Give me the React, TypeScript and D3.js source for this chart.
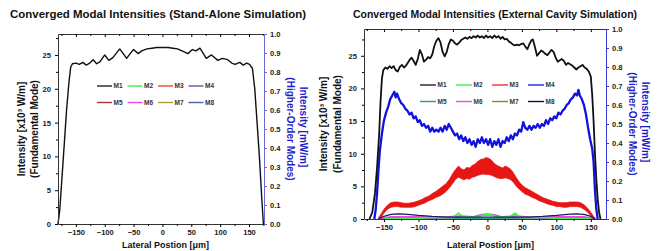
import React, { useEffect, useRef } from 'react';
import * as d3 from 'd3';

const WIDTH = 659;
const HEIGHT = 251;

const modeNames = ['M1', 'M2', 'M3', 'M4', 'M5', 'M6', 'M7', 'M8'];
const saColors = ['#222222', '#44ee44', '#ee4444', '#5a5ab4', '#a03838', '#ee44ee', '#a0a040', '#5a5aa0'];
const ecColors = ['#222222', '#44ee44', '#ee3333', '#2222dd', '#2a9a9a', '#ee44ee', '#8a8a20', '#10103a'];

const xTicks = [-150, -100, -50, 0, 50, 100, 150];
const xMinor = [-175, -125, -75, -25, 25, 75, 125, 175];
const leftTicks = [0, 5, 10, 15, 20, 25];
const leftMinor = [2.5, 7.5, 12.5, 17.5, 22.5, 27.5];
const rightTicks = [0, 0.1, 0.2, 0.3, 0.4, 0.5, 0.6, 0.7, 0.8, 0.9, 1.0];

// stand-alone simulation, fundamental mode [x, 10^3 W/m]
const saM1 = [
  [-181, 0], [-178, 2], [-174, 7], [-170, 12], [-166, 17], [-162, 21], [-159, 23.2], [-156, 23.7],
  [-150, 23.8], [-144, 23.6], [-138, 23.9], [-132, 23.5], [-126, 23.8], [-120, 24.3], [-114, 23.7],
  [-108, 24.0], [-100, 25.0], [-93, 24.2], [-86, 24.6], [-74, 25.9], [-62, 24.5], [-56, 25.2],
  [-50, 25.8], [-42, 25.2], [-36, 25.6], [-27, 25.9], [-18, 26.0], [-10, 26.1], [0, 26.1], [10, 26.1],
  [18, 26.0], [26, 25.9], [34, 25.6], [44, 25.2], [52, 25.8], [58, 25.6], [65, 26.0], [76, 24.5],
  [85, 25.0], [96, 24.2], [104, 24.5], [113, 24.3], [120, 23.8], [126, 23.6], [134, 23.9], [140, 23.5],
  [146, 23.8], [151, 23.6], [156, 23.0], [160, 20], [164, 15], [168, 10], [172, 4], [175, 0],
];

// external cavity simulation, fundamental mode [x, 10^3 W/m]
const ecM1 = [
  [-171, 0], [-167, 1], [-163, 4], [-160, 8], [-157, 13], [-155, 18], [-153, 21.5], [-151, 22.8],
  [-148, 23.2], [-145, 23.0], [-142, 23.4], [-139, 23.1], [-136, 23.4], [-133, 22.8], [-130, 22.6],
  [-127, 23.3], [-124, 23.6], [-121, 23.2], [-118, 23.5], [-115, 24.0], [-112, 24.5], [-110, 24.7],
  [-107, 24.2], [-104, 23.6], [-101, 24.5], [-98, 25.9], [-95, 25.2], [-92, 24.1], [-89, 24.4],
  [-86, 24.8], [-83, 24.6], [-80, 25.2], [-77, 26.5], [-74, 27.3], [-71, 27.7], [-68, 27.0],
  [-65, 25.6], [-62, 24.9], [-59, 25.6], [-56, 26.8], [-53, 27.5], [-50, 27.3], [-47, 26.9],
  [-44, 26.7], [-41, 27.0], [-38, 27.4], [-35, 27.6], [-32, 27.8], [-29, 27.6], [-26, 27.9],
  [-23, 27.7], [-20, 28.0], [-17, 27.8], [-14, 28.1], [-11, 27.8], [-8, 28.0], [-5, 27.7], [-2, 28.1],
  [1, 27.8], [4, 28.0], [7, 27.7], [10, 28.1], [13, 27.8], [16, 28.0], [19, 27.6], [22, 27.9],
  [25, 27.5], [28, 27.6], [31, 27.2], [34, 27.0], [37, 26.7], [40, 26.6], [43, 26.7], [46, 26.6],
  [49, 26.8], [52, 26.9], [55, 26.4], [58, 26.0], [61, 26.8], [64, 27.4], [66, 27.5], [69, 26.3],
  [72, 25.0], [75, 25.4], [78, 25.8], [81, 25.6], [84, 25.3], [87, 25.1], [90, 25.5], [93, 25.9],
  [96, 25.6], [99, 24.7], [102, 24.1], [105, 24.3], [108, 24.5], [111, 24.2], [114, 23.6], [117, 23.9],
  [120, 23.7], [123, 23.5], [126, 23.2], [129, 22.9], [132, 23.2], [135, 23.4], [138, 23.6], [141, 23.2],
  [144, 23.0], [147, 22.6], [150, 21.8], [152, 19], [154, 15], [156, 10], [158, 6], [160, 3],
  [162, 1], [164, 0],
];

// external cavity, M4 on the right axis [x, mW/m]
const ecM4 = [
  [-164, 0], [-162, 0.05], [-160, 0.14], [-158, 0.26], [-156, 0.36], [-153, 0.45], [-150, 0.52],
  [-147, 0.56], [-144, 0.59], [-141, 0.63], [-138, 0.65], [-135, 0.67], [-133, 0.64], [-131, 0.66],
  [-128, 0.63], [-125, 0.61], [-122, 0.60], [-119, 0.58], [-116, 0.57], [-113, 0.55], [-110, 0.56],
  [-107, 0.53], [-104, 0.54], [-101, 0.51], [-98, 0.52], [-95, 0.49], [-92, 0.50], [-89, 0.48],
  [-86, 0.49], [-83, 0.46], [-80, 0.48], [-77, 0.46], [-74, 0.47], [-71, 0.46], [-68, 0.48],
  [-65, 0.46], [-62, 0.49], [-59, 0.47], [-56, 0.50], [-53, 0.48], [-50, 0.46], [-47, 0.44],
  [-44, 0.45], [-41, 0.42], [-38, 0.44], [-35, 0.41], [-32, 0.43], [-29, 0.40], [-26, 0.42],
  [-23, 0.39], [-20, 0.41], [-17, 0.38], [-14, 0.42], [-11, 0.40], [-8, 0.43], [-5, 0.40], [-2, 0.42],
  [1, 0.39], [4, 0.42], [7, 0.38], [10, 0.41], [13, 0.39], [16, 0.42], [19, 0.38], [22, 0.41],
  [25, 0.40], [28, 0.43], [31, 0.41], [34, 0.44], [37, 0.42], [40, 0.45], [43, 0.44], [46, 0.47],
  [49, 0.46], [52, 0.51], [55, 0.48], [58, 0.47], [61, 0.49], [64, 0.47], [67, 0.49], [70, 0.48],
  [73, 0.50], [76, 0.48], [79, 0.50], [82, 0.49], [85, 0.52], [88, 0.50], [91, 0.53], [94, 0.52],
  [97, 0.54], [100, 0.53], [103, 0.56], [106, 0.55], [109, 0.57], [112, 0.58], [115, 0.60], [118, 0.61],
  [121, 0.63], [124, 0.64], [127, 0.66], [130, 0.65], [132, 0.68], [134, 0.65], [137, 0.63], [140, 0.60],
  [143, 0.55], [146, 0.48], [149, 0.42], [152, 0.37], [154, 0.30], [156, 0.15], [158, 0.05], [160, 0],
];

// external cavity, M3 band [x, low, high]
const ecM3 = [
  [-158, 0, 0.2], [-154, 0.3, 0.8], [-150, 0.9, 1.5], [-145, 1.5, 2.1], [-140, 1.8, 2.5], [-135, 1.9, 2.6],
  [-130, 1.9, 2.6], [-125, 1.8, 2.5], [-120, 1.8, 2.4], [-115, 1.8, 2.4], [-110, 1.8, 2.5], [-105, 1.9, 2.6],
  [-100, 2.1, 2.8], [-95, 2.3, 3.0], [-90, 2.5, 3.3], [-85, 2.8, 3.5], [-80, 3.0, 3.9], [-75, 3.3, 4.2],
  [-70, 3.5, 4.6], [-65, 3.8, 5.0], [-60, 4.2, 5.4], [-55, 4.8, 6.1], [-50, 5.5, 7.0], [-46, 6.1, 7.6],
  [-42, 6.4, 8.1], [-38, 6.2, 7.7], [-34, 6.0, 7.5], [-30, 6.2, 7.9], [-26, 6.1, 7.8], [-22, 6.4, 8.2],
  [-18, 6.5, 8.4], [-14, 6.7, 8.8], [-10, 6.8, 9.1], [-6, 6.9, 9.2], [-2, 6.8, 9.4], [2, 6.8, 9.3],
  [6, 6.7, 9.0], [10, 6.5, 8.5], [14, 6.3, 8.2], [18, 6.2, 8.0], [22, 6.2, 7.8], [26, 6.3, 8.1],
  [30, 6.2, 7.9], [34, 6.0, 7.6], [38, 5.6, 7.0], [42, 5.0, 6.3], [46, 4.6, 5.7], [50, 4.2, 5.2],
  [55, 3.8, 4.8], [60, 3.6, 4.5], [65, 3.3, 4.2], [70, 3.1, 3.9], [75, 2.8, 3.6], [80, 2.6, 3.3],
  [85, 2.4, 3.1], [90, 2.2, 2.9], [95, 2.1, 2.7], [100, 1.9, 2.6], [105, 1.9, 2.5], [110, 1.8, 2.5],
  [115, 1.8, 2.5], [120, 1.9, 2.6], [125, 1.9, 2.6], [130, 1.9, 2.6], [135, 1.8, 2.5], [140, 1.5, 2.2],
  [145, 1.1, 1.7], [150, 0.5, 1.0], [154, 0.1, 0.4], [157, 0, 0.1],
];

const ecM2 = [
  [-150, 0], [-100, 0.1], [-80, 0.3], [-70, 0.2], [-50, 0.2], [-42, 0.9], [-35, 0.3], [-15, 0.3],
  [-5, 0.7], [5, 0.7], [15, 0.3], [32, 0.3], [40, 0.9], [48, 0.2], [70, 0.2], [80, 0.3], [100, 0.1], [150, 0],
];
const ecM5 = [[-150, 0], [-100, 0.15], [0, 0.1], [100, 0.15], [150, 0]];
const ecM6 = [
  [-155, 0], [-140, 0.3], [-100, 0.3], [-60, 0.25], [-40, 0.4], [-20, 0.3], [-10, 0.6], [0, 0.7],
  [10, 0.6], [20, 0.3], [40, 0.4], [60, 0.25], [100, 0.3], [140, 0.3], [155, 0],
];
const ecM7 = [[-150, 0], [0, 0.05], [150, 0]];
const ecM8 = [
  [-158, 0], [-150, 0.4], [-140, 0.7], [-130, 0.8], [-120, 0.75], [-100, 0.55], [-80, 0.4], [-60, 0.3],
  [-40, 0.3], [-20, 0.3], [0, 0.3], [20, 0.3], [40, 0.3], [60, 0.3], [80, 0.4], [100, 0.55], [120, 0.75],
  [130, 0.8], [140, 0.7], [150, 0.4], [156, 0],
];

const FONT = '"Liberation Sans", Arial, sans-serif';
const BLUE = '#1c1cc8';

function drawPanel(svg, p) {
  const x = d3.scaleLinear().domain(p.xDomain).range([p.x0, p.x1]);
  const yL = d3.scaleLinear().domain([0, p.yMax]).range([p.y1, p.y0]);
  const yR = d3.scaleLinear().domain([0, 1]).range([p.y1, p.y0]);
  const g = svg.append('g');

  // title
  g.append('text').attr('x', p.titleX).attr('y', 18).attr('text-anchor', 'middle')
    .attr('font-size', 10.6).attr('font-weight', 'bold').attr('fill', '#111')
    .attr('textLength', p.titleLen).attr('lengthAdjust', 'spacingAndGlyphs').text(p.title);

  // bands (left axis)
  (p.bands || []).forEach(b => {
    g.append('path').datum(b.data)
      .attr('d', d3.area().x(d => x(d[0])).y0(d => yL(d[1])).y1(d => yL(d[2])))
      .attr('fill', b.color).attr('stroke', b.color).attr('stroke-width', 0.8);
  });

  p.series.forEach(s => {
    const y = s.right ? yR : yL;
    g.append('path').datum(s.data)
      .attr('d', d3.line().x(d => x(d[0])).y(d => y(d[1])))
      .attr('fill', 'none').attr('stroke', s.color).attr('stroke-width', s.width)
      .attr('stroke-linejoin', 'round');
  });

  const styleAxis = sel => {
    sel.attr('font-family', FONT).attr('font-size', 7.6).attr('font-weight', 'bold');
    sel.selectAll('text').attr('fill', '#222');
  };

  // bottom
  g.append('g').attr('transform', `translate(0,${p.y1})`)
    .call(d3.axisBottom(x).tickValues(xTicks).tickSize(3).tickPadding(3).tickSizeOuter(0))
    .call(styleAxis)
    .call(a => a.select('.domain').attr('stroke', '#333'));
  g.append('g').attr('transform', `translate(0,${p.y1})`)
    .call(d3.axisBottom(x).tickValues(xMinor.filter(v => v > p.xDomain[0] && v < p.xDomain[1]))
      .tickSize(2).tickFormat(() => '').tickSizeOuter(0))
    .call(a => a.select('.domain').remove());
  // top
  g.append('g').attr('transform', `translate(0,${p.y0})`)
    .call(d3.axisBottom(x).tickValues(xTicks).tickSize(3).tickFormat(() => '').tickSizeOuter(0))
    .call(a => a.select('.domain').attr('stroke', '#333'));
  g.append('g').attr('transform', `translate(0,${p.y0})`)
    .call(d3.axisBottom(x).tickValues(xMinor.filter(v => v > p.xDomain[0] && v < p.xDomain[1]))
      .tickSize(2).tickFormat(() => '').tickSizeOuter(0))
    .call(a => a.select('.domain').remove());
  // left
  g.append('g').attr('transform', `translate(${p.x0},0)`)
    .call(d3.axisLeft(yL).tickValues(leftTicks).tickSize(3).tickPadding(4).tickSizeOuter(0))
    .call(styleAxis)
    .call(a => a.select('.domain').attr('stroke', '#333'));
  g.append('g').attr('transform', `translate(${p.x0},0)`)
    .call(d3.axisLeft(yL).tickValues(leftMinor.filter(v => v < p.yMax)).tickSize(2).tickFormat(() => '').tickSizeOuter(0))
    .call(a => a.select('.domain').remove());
  // right
  g.append('g').attr('transform', `translate(${p.x1},0)`)
    .call(d3.axisRight(yR).tickValues(rightTicks).tickSize(3).tickPadding(3)
      .tickFormat(d3.format('.1f')).tickSizeOuter(0))
    .call(styleAxis)
    .call(a => a.select('.domain').attr('stroke', p.rightAxisColor))
    .call(a => a.selectAll('line').attr('stroke', p.rightAxisColor));

  // axis titles
  const lx = p.leftLabelX;
  const cy = (p.y0 + p.y1) / 2;
  g.append('text').attr('transform', `translate(${lx[0]},${cy}) rotate(-90)`)
    .attr('text-anchor', 'middle').attr('dominant-baseline', 'central')
    .attr('font-size', 10).attr('font-weight', 'bold').attr('fill', '#111')
    .text('Intensity  [x10³ W/m]');
  g.append('text').attr('transform', `translate(${lx[1]},${cy}) rotate(-90)`)
    .attr('text-anchor', 'middle').attr('dominant-baseline', 'central')
    .attr('font-size', 10).attr('font-weight', 'bold').attr('fill', '#111')
    .text('(Fundamental Mode)');
  const rx = p.rightLabelX;
  g.append('text').attr('transform', `translate(${rx[0]},${cy}) rotate(90)`)
    .attr('text-anchor', 'middle').attr('dominant-baseline', 'central')
    .attr('font-size', 10).attr('font-weight', 'bold').attr('fill', BLUE)
    .text('(Higher-Order Modes)');
  g.append('text').attr('transform', `translate(${rx[1]},${cy - 2}) rotate(90)`)
    .attr('text-anchor', 'middle').attr('dominant-baseline', 'central')
    .attr('font-size', 10).attr('font-weight', 'bold').attr('fill', BLUE)
    .text('Intensity  [mW/m]');
  g.append('text').attr('x', x(0) + 3).attr('y', 247.5).attr('text-anchor', 'middle')
    .attr('font-size', 9).attr('font-weight', 'bold').attr('fill', '#111')
    .text('Lateral Postion [μm]');

  // legend
  const leg = g.append('g').attr('font-size', 6.5).attr('font-weight', 'bold');
  modeNames.forEach((name, i) => {
    const col = i % 4;
    const row = Math.floor(i / 4);
    const lx0 = p.legendX + col * p.legendStep;
    const ly = p.legendY + row * 16.5;
    leg.append('line').attr('x1', lx0).attr('x2', lx0 + p.legendLen).attr('y1', ly).attr('y2', ly)
      .attr('stroke', p.colors[i]).attr('stroke-width', 1.4);
    leg.append('text').attr('x', lx0 + p.legendLen + 1.5).attr('y', ly + 2.4).attr('fill', '#333').text(name);
  });
}

export default function App() {
  const ref = useRef(null);

  useEffect(() => {
    const svg = d3.select(ref.current);
    svg.selectAll('*').remove();

    drawPanel(svg, {
      x0: 58, x1: 264, y0: 34, y1: 224,
      xDomain: [-181, 176], yMax: 28.1,
      title: 'Converged Modal Intensities (Stand-Alone Simulation)', titleX: 158, titleLen: 296,
      leftLabelX: [21, 34], rightLabelX: [290, 303],
      rightAxisColor: '#6a6ad0',
      colors: saColors, legendX: 97, legendY: 86, legendStep: 30.5, legendLen: 15,
      series: [{ data: saM1, color: '#111', width: 1.4 }],
    });

    drawPanel(svg, {
      x0: 364, x1: 606, y0: 29, y1: 219,
      xDomain: [-179, 172], yMax: 29.1,
      title: 'Converged Modal Intensities (External Cavity Simulation)', titleX: 495, titleLen: 284,
      leftLabelX: [323, 337], rightLabelX: [632, 645],
      rightAxisColor: '#3a3ad8',
      colors: ecColors, legendX: 420, legendY: 85, legendStep: 36, legendLen: 16,
      bands: [{ data: ecM3, color: '#e81515' }],
      series: [
        { data: ecM7, color: ecColors[6], width: 1.2 },
        { data: ecM5, color: ecColors[4], width: 1.2 },
        { data: ecM6, color: ecColors[5], width: 2.2 },
        { data: ecM2, color: ecColors[1], width: 1.6 },
        { data: ecM8, color: '#1a1a60', width: 1.3 },
        { data: ecM4, color: '#1212e0', width: 2.3, right: true },
        { data: ecM1, color: '#111', width: 1.8 },
      ],
    });
  }, []);

  return (
    <svg ref={ref} width={WIDTH} height={HEIGHT}
      style={{ position: 'absolute', left: 0, top: 0, background: '#fff', fontFamily: FONT }} />
  );
}
